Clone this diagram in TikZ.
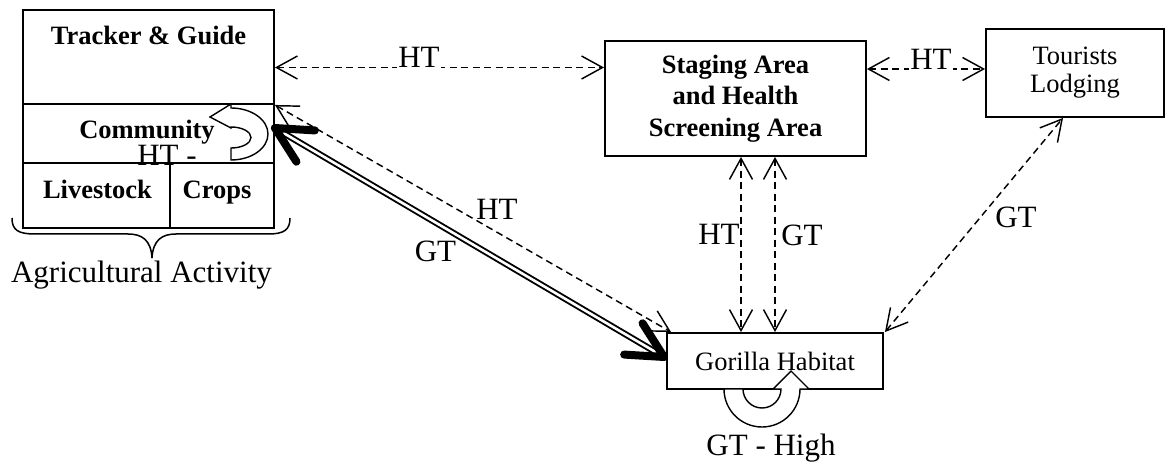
\documentclass[tikz,border=0pt]{standalone}
\usepackage{fontspec}
\setmainfont{Liberation Serif}
\usetikzlibrary{arrows.meta,calc}

\begin{document}
\begin{tikzpicture}[x=1pt,y=1pt,
  >={Straight Barb[length=21pt,width=23pt]},
  box/.style={draw, line width=1.9pt, rectangle, inner sep=0pt, align=center,
    font=\fontsize{26.5}{31.5}\selectfont},
  btxt/.style={anchor=base, inner sep=0pt, font=\fontsize{26.5}{31.5}\selectfont\bfseries},
  lbl/.style={anchor=base, inner sep=0pt, font=\fontsize{31}{31}\selectfont},
  cover/.style={fill=white, inner sep=1pt},
  dline/.style={<->, line width=1.45pt, dash pattern=on 7pt off 4.5pt},
  dbl/.style={line width=1.9pt, double distance=2.6pt},
  heavy/.style={line width=8pt, line cap=round, line join=round},
  uturn/.style={draw, fill=white, line width=1.4pt, line join=miter},
]
\useasboundingbox (0,0) rectangle (1167,-462);

% agricultural block
\node[box, minimum width=251pt, minimum height=94pt] (trk) at (148.5,-57) {};
\node[box, minimum width=251pt, minimum height=59pt] (com) at (148.5,-133.5) {};
\node[box, minimum width=147pt, minimum height=65pt] (liv) at (96.5,-195.5) {};
\node[box, minimum width=104pt, minimum height=65pt] (crp) at (222,-195.5) {};

% other places
\node[box, font=\fontsize{26.5}{31.5}\selectfont\bfseries,
      minimum width=261pt, minimum height=115pt] (stg) at (735.5,-98.5)
      {Staging Area\\and Health\\Screening Area};
\node[box, font=\fontsize{26.5}{28}\selectfont,
      minimum width=178pt, minimum height=88pt] (tour) at (1075,-73) {Tourists\\Lodging};
\node[box, minimum width=216pt, minimum height=56pt] (gor) at (775,-361) {Gorilla Habitat};

% self loops
\draw[uturn] (231,-160) arc[start angle=-90, end angle=90, x radius=37, y radius=26]
  -- (231,-104) -- (210,-117) -- (231,-128) -- (231,-127)
  arc[start angle=90, end angle=-90, x radius=20, y radius=10.5] -- cycle;
\draw[uturn] (724,-389) arc[start angle=180, end angle=360, radius=38]
  -- (809,-389) -- (791,-371) -- (773,-389) -- (781,-389)
  arc[start angle=0, end angle=-180, radius=19] -- cycle;

% texts of the agricultural block
\node[btxt] (trkt) at (148.5,-45) {Tracker \& Guide};
\node[btxt] (comt) at (147,-138.5) {Community};
\node[btxt] (livt) at (97.5,-199) {Livestock};
\node[btxt] (crpt) at (217,-199) {Crops};
\node[lbl] (comloop) at (167,-166) {HT -};

% brace and its caption
\draw[line width=1.5pt] (12,-218) .. controls (12,-230) and (18,-234) .. (35,-234)
  -- (128,-234) .. controls (142,-234) and (151,-240) .. (152,-258)
  .. controls (153,-240) and (162,-234) .. (176,-234)
  -- (268,-234) .. controls (284,-234) and (290,-230) .. (290,-218);
\node[lbl] (agri) at (141.5,-283) {Agricultural Activity};

% human traffic
\draw[dline] ([yshift=-10.5pt]trk.east) -- ([yshift=31pt]stg.west);
\node[lbl, cover] (ht1) at (419,-68) {HT};
\draw[dline] ([yshift=29.5pt]stg.east) -- ([yshift=4pt]tour.west);
\node[lbl, cover] (ht2) at (931,-70) {HT};
\draw[dline] (trk.south east) -- ([xshift=5pt]gor.north west);
\node[lbl, fill=white, inner sep=0.5pt] (ht3) at (497,-220) {HT};
\draw[dline] ([xshift=5.5pt]stg.south) -- ([xshift=-34pt]gor.north);
\node[lbl] (ht4) at (719,-245) {HT};

% gorilla traffic
\draw[dline] ([xshift=39.5pt]stg.south) -- (gor.north);
\node[lbl] (gt1) at (802,-246) {GT};
\draw[dline] ([xshift=1pt]gor.north east) -- ([xshift=-12pt]tour.south);
\node[lbl] (gt2) at (1016,-227.5) {GT};

\coordinate (ga) at ([yshift=5.5pt]com.east);
\coordinate (gb) at ([xshift=-2pt,yshift=4pt]gor.west);
\draw[dbl] (ga) -- (gb);
\draw[heavy] ($(ga)!40pt!27:(gb)$) -- (ga) -- ($(ga)!40pt!-27:(gb)$);
\draw[heavy] ($(gb)!40pt!27:(ga)$) -- (gb) -- ($(gb)!40pt!-27:(ga)$);
\node[lbl] (gt3) at (435.5,-262) {GT};

\node[lbl] (gthigh) at (771,-455) {GT - High};
\end{tikzpicture}
\end{document}
